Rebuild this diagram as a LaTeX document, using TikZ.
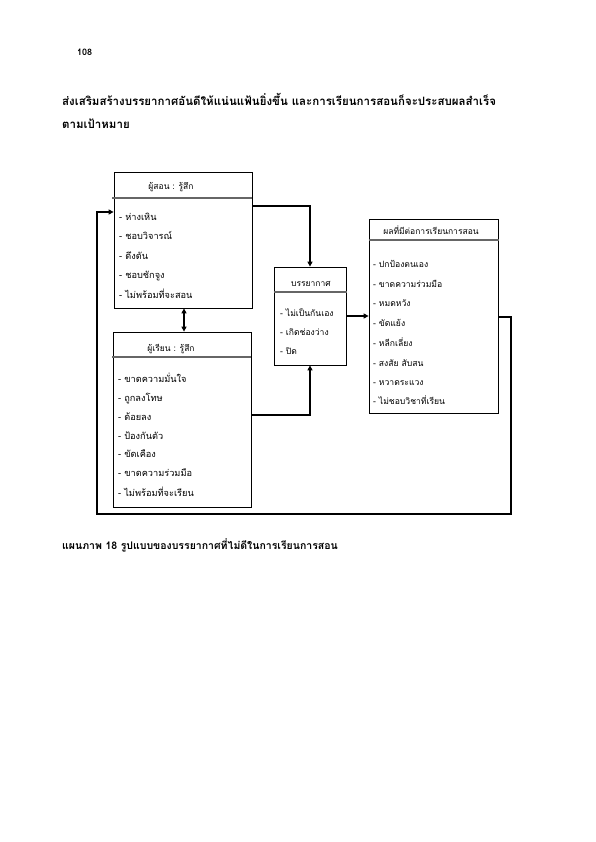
\documentclass[tikz,border=0pt]{standalone}
\usepackage{fontspec}
\setmainfont[Script=Thai]{Loma}
\usetikzlibrary{arrows.meta}
\tikzset{
  boxframe/.style={draw=black, line width=0.8pt, fill=white, inner sep=0pt},
  divline/.style={draw=black!60, line width=1.2pt},
  conn/.style={draw=black, line width=1.3pt, -{Triangle[length=5pt,width=5pt]}},
  dconn/.style={draw=black, line width=1.3pt, {Triangle[length=5pt,width=5pt]}-{Triangle[length=5pt,width=5pt]}},
  item/.style={anchor=base west, inner sep=0pt, font=\fontsize{9.2}{11}\selectfont},
  itemb/.style={anchor=base west, inner sep=0pt, font=\fontsize{8.6}{10}\selectfont},
  ttl/.style={anchor=base, inner sep=0pt, font=\fontsize{8.5}{10}\selectfont},
  para/.style={anchor=base west, inner sep=0pt, font=\bfseries\fontsize{11.5}{13}\selectfont},
}
\begin{document}
\begin{tikzpicture}[x=1pt,y=-1pt]
\useasboundingbox[fill=white] (0,0) rectangle (595,842);

\node[anchor=base west, inner sep=0pt, font=\bfseries\fontsize{9}{10}\selectfont] (pg) at (77,56) {108};
\node[para] (p1) at (62,106) {ส่งเสริมสร้างบรรยากาศอันดีให้แน่นแฟ้นยิ่งขึ้น และการเรียนการสอนก็จะประสบผลสำเร็จ};
\node[para] (p2) at (62,129) {ตามเป้าหมาย};

% boxes
\node[boxframe, minimum width=138pt, minimum height=136pt] (t) at (183,240) {};
\node[boxframe, minimum width=138pt, minimum height=175pt] (s) at (182,419.5) {};
\node[boxframe, minimum width=72pt, minimum height=98pt] (a) at (310,316) {};
\node[boxframe, minimum width=129pt, minimum height=194pt] (r) at (433.5,316) {};

% dividers
\draw[divline] (112,198) -- (t.east |- 0,198);
\draw[divline] (112,357) -- (s.east |- 0,357);
\draw[divline] (a.west |- 0,292) -- (347,292);
\draw[divline] (r.west |- 0,240) -- (499,240);

% teacher box
\node[ttl] (t0) at (171,190) {ผู้สอน : รู้สึก};
\node[item] (t1) at (119,221) {- ห่างเหิน};
\node[item] (t2) at (119,240) {- ชอบวิจารณ์};
\node[item] (t3) at (119,259) {- ดึงดัน};
\node[item] (t4) at (119,278) {- ชอบชักจูง};
\node[item] (t5) at (119,298) {- ไม่พร้อมที่จะสอน};

% student box
\node[ttl] (s0) at (171,351) {ผู้เรียน : รู้สึก};
\node[item] (s1) at (118,382) {- ขาดความมั่นใจ};
\node[item] (s2) at (118,401) {- ถูกลงโทษ};
\node[item] (s3) at (118,420) {- ด้อยลง};
\node[item] (s4) at (118,439) {- ป้องกันตัว};
\node[item] (s5) at (118,457) {- ขัดเคือง};
\node[item] (s6) at (118,476) {- ขาดความร่วมมือ};
\node[item] (s7) at (118,496) {- ไม่พร้อมที่จะเรียน};

% atmosphere box
\node[ttl] (a0) at (311,286) {บรรยากาศ};
\node[itemb] (a1) at (280,316) {- ไม่เป็นกันเอง};
\node[itemb] (a2) at (280,335) {- เกิดช่องว่าง};
\node[itemb] (a3) at (280,354) {- ปิด};

% result box
\node[ttl] (r0) at (431,234) {ผลที่มีต่อการเรียนการสอน};
\node[itemb] (r1) at (373,267) {- ปกป้องตนเอง};
\node[itemb] (r2) at (373,287) {- ขาดความร่วมมือ};
\node[itemb] (r3) at (373,306) {- หมดหวัง};
\node[itemb] (r4) at (373,326) {- ขัดแย้ง};
\node[itemb] (r5) at (373,346) {- หลีกเลี่ยง};
\node[itemb] (r6) at (373,366) {- สงสัย สับสน};
\node[itemb] (r7) at (373,385) {- หวาดระแวง};
\node[itemb] (r8) at (373,404) {- ไม่ชอบวิชาที่เรียน};

% connectors
\coordinate (c1) at (511,514);
\coordinate (c2) at (97,514);
\draw[conn] (t.east |- 0,206) -| (a.north);
\draw[conn] (s.east |- 0,415) -| (a.south);
\draw[conn] (a) -- (r);
\draw[dconn] (t.south -| 184,0) -- (s.north -| 184,0);
\draw[conn] (r.east |- 0,317) -| (c1) -- (c2) |- (t.west |- 0,212);

\node[anchor=base west, inner sep=0pt, font=\bfseries\fontsize{10.5}{12}\selectfont] (cap) at (62,549) {แผนภาพ 18 รูปแบบของบรรยากาศที่ไม่ดีในการเรียนการสอน};
\end{tikzpicture}
\end{document}
